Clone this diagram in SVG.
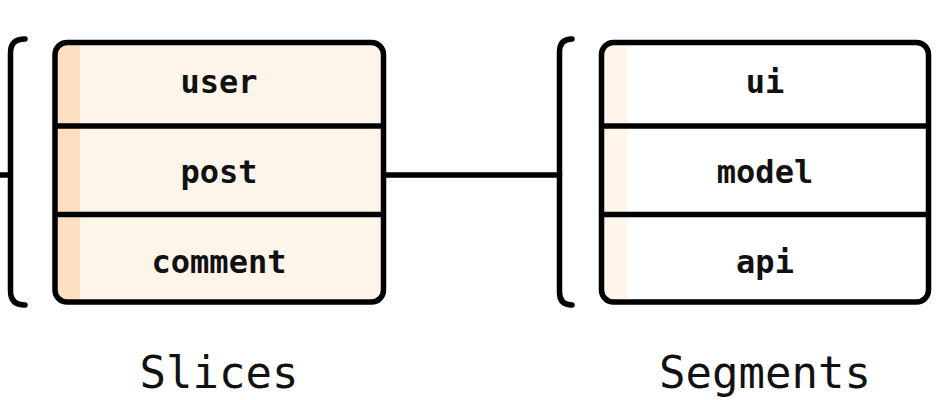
<svg xmlns="http://www.w3.org/2000/svg" width="948" height="400" viewBox="0 0 948 400">
<style>
.ln{fill:none;stroke:#000;stroke-width:5.5;stroke-linecap:round;stroke-linejoin:round}
.div{stroke:#000;stroke-width:5.5}
.lbl{font-family:"DejaVu Sans Mono","Liberation Mono",monospace;font-weight:bold;font-size:32px;text-anchor:middle;fill:#111}
.cap{font-family:"DejaVu Sans Mono","Liberation Mono",monospace;font-size:44px;text-anchor:middle;fill:#111}
</style>
<defs>
<clipPath id="c1"><rect x="55" y="42.5" width="328.5" height="259.5" rx="12"/></clipPath>
<clipPath id="c2"><rect x="601.5" y="42.5" width="327" height="259.5" rx="12"/></clipPath>
</defs>
<g id="connectors">
<line class="ln" x1="0" y1="175" x2="10.5" y2="175" style="stroke-linecap:butt"/>
<line class="ln" x1="383.5" y1="175" x2="559.5" y2="175"/>
</g>
<g id="bracket-left">
<path class="ln" d="M25,39 Q10.5,39 10.5,53 V291 Q10.5,305 25,305"/>
</g>
<g id="slices">
<rect x="55" y="42.5" width="328.5" height="259.5" rx="12" fill="#fef5ea"/>
<rect x="55" y="42.5" width="25" height="259.5" fill="#fde0c2" clip-path="url(#c1)"/>
<line class="div" x1="55" y1="126" x2="383.5" y2="126"/>
<line class="div" x1="55" y1="214.5" x2="383.5" y2="214.5"/>
<rect class="ln" x="55" y="42.5" width="328.5" height="259.5" rx="12"/>
<text class="lbl" x="219" y="93">user</text>
<text class="lbl" x="219" y="183">post</text>
<text class="lbl" x="219" y="273">comment</text>
<text class="cap" x="219" y="388">Slices</text>
</g>
<g id="bracket-right">
<path class="ln" d="M572,39 Q559.5,39 559.5,52 V292 Q559.5,305 572,305"/>
</g>
<g id="segments">
<rect x="601.5" y="42.5" width="327" height="259.5" rx="12" fill="#fff"/>
<rect x="601.5" y="42.5" width="26" height="259.5" fill="#fff5e8" clip-path="url(#c2)"/>
<line class="div" x1="601.5" y1="126" x2="928.5" y2="126"/>
<line class="div" x1="601.5" y1="214.5" x2="928.5" y2="214.5"/>
<rect class="ln" x="601.5" y="42.5" width="327" height="259.5" rx="12"/>
<text class="lbl" x="765" y="93">ui</text>
<text class="lbl" x="765" y="183">model</text>
<text class="lbl" x="765" y="273">api</text>
<text class="cap" x="765" y="388">Segments</text>
</g>
</svg>
